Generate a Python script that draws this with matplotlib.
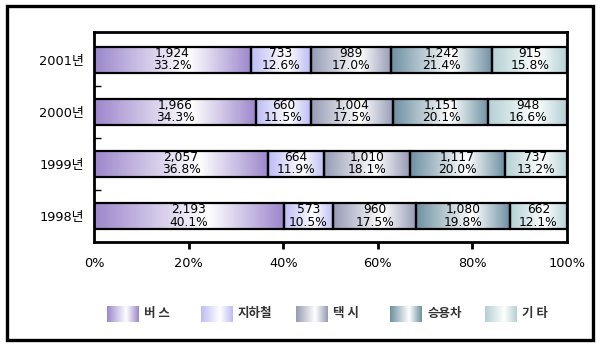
import numpy as np
import matplotlib
matplotlib.use("Agg")
import matplotlib.pyplot as plt
from matplotlib.colors import LinearSegmentedColormap
from matplotlib.patches import Rectangle

plt.rcParams['font.family'] = ['DejaVu Sans', 'Noto Sans CJK KR']

years = ['1998년', '1999년', '2000년', '2001년']
modes = ['버 스', '지하철', '택 시', '승용차', '기 타']
values = {
    '1998년': [2193, 573, 960, 1080, 662],
    '1999년': [2057, 664, 1010, 1117, 737],
    '2000년': [1966, 660, 1004, 1151, 948],
    '2001년': [1924, 733, 989, 1242, 915],
}
pcts = {
    '1998년': [40.1, 10.5, 17.5, 19.8, 12.1],
    '1999년': [36.8, 11.9, 18.1, 20.0, 13.2],
    '2000년': [34.3, 11.5, 17.5, 20.1, 16.6],
    '2001년': [33.2, 12.6, 17.0, 21.4, 15.8],
}
colors = ['#9c86cc', '#bcbcf4', '#959bb5', '#6d90a2', '#b3d0d4']
xticks = [0, 20, 40, 60, 80, 100]
xticklabels = ['0%', '20%', '40%', '60%', '80%', '100%']

cmaps = [LinearSegmentedColormap.from_list('g%d' % i, [(0, c), (0.6, 'white'), (1, c)])
         for i, c in enumerate(colors)]
grad = np.linspace(0, 1, 256)[None, :]

fig = plt.figure(figsize=(6.0, 3.49), dpi=100)
W, H = 600, 349
ax = fig.add_axes([94 / W, 1 - 242 / H, (567 - 94) / W, (242 - 32) / H])

ypos = np.arange(len(years))
bar_h = 0.5
for yi, yr in zip(ypos, years):
    left = 0.0
    tot = sum(pcts[yr])
    widths = [p / tot * 100 for p in pcts[yr]]
    for k, (w, v, p) in enumerate(zip(widths, values[yr], pcts[yr])):
        b = ax.barh(yi, w, left=left, height=bar_h, facecolor='none',
                    edgecolor='black', linewidth=1.6, zorder=3)[0]
        x0, y0 = b.get_x(), b.get_y()
        ax.imshow(grad, cmap=cmaps[k], extent=(x0, x0 + b.get_width(), y0, y0 + b.get_height()),
                  aspect='auto', zorder=2, interpolation='bilinear')
        ax.text(x0 + b.get_width() / 2, yi, f"{v:,}\n{p:.1f}%", ha='center', va='center',
                fontsize=8.8, linespacing=0.92, zorder=4)
        left += w

ax.set_xlim(0, 100)
ax.set_ylim(-0.5, 3.53)
ax.set_aspect('auto')
ax.set_yticks(ypos)
ax.set_yticklabels(years, fontsize=9.3)
ax.tick_params(axis='y', length=0, pad=7)
ax.set_yticks([0.5, 1.5, 2.5], minor=True)
ax.tick_params(axis='y', which='minor', direction='in', length=5, width=1)
ax.set_xticks(xticks)
ax.set_xticklabels(xticklabels, fontsize=9.3)
ax.tick_params(axis='x', direction='out', length=5, width=2, pad=6)
xt = ax.xaxis.get_major_ticks()
xt[0].tick1line.set_visible(False)
xt[-1].tick1line.set_visible(False)
for s in ax.spines.values():
    s.set_linewidth(2)

# legend
lax = fig.add_axes([0, 0, 1, 1], zorder=5)
lax.set_xlim(0, W)
lax.set_ylim(H, 0)
lax.axis('off')
sw_x = [107, 201, 296, 390, 485]
for k, (m, sx) in enumerate(zip(modes, sw_x)):
    lax.imshow(grad, cmap=cmaps[k], extent=(sx, sx + 32, 322, 306), aspect='auto',
               interpolation='bilinear')
    lax.text(sx + 37, 314, m, ha='left', va='center', fontsize=9, color='#333333',
             family=['Noto Sans CJK KR'], fontweight='bold')
lax.set_xlim(0, W)
lax.set_ylim(H, 0)
lax.set_aspect('auto')

fig.patches.append(Rectangle((7 / W, 1 - 340 / H), (593 - 7) / W, (340 - 6) / H,
                             transform=fig.transFigure, fill=False, edgecolor='black',
                             linewidth=2.4))

fig.savefig('out.png', dpi=100)
